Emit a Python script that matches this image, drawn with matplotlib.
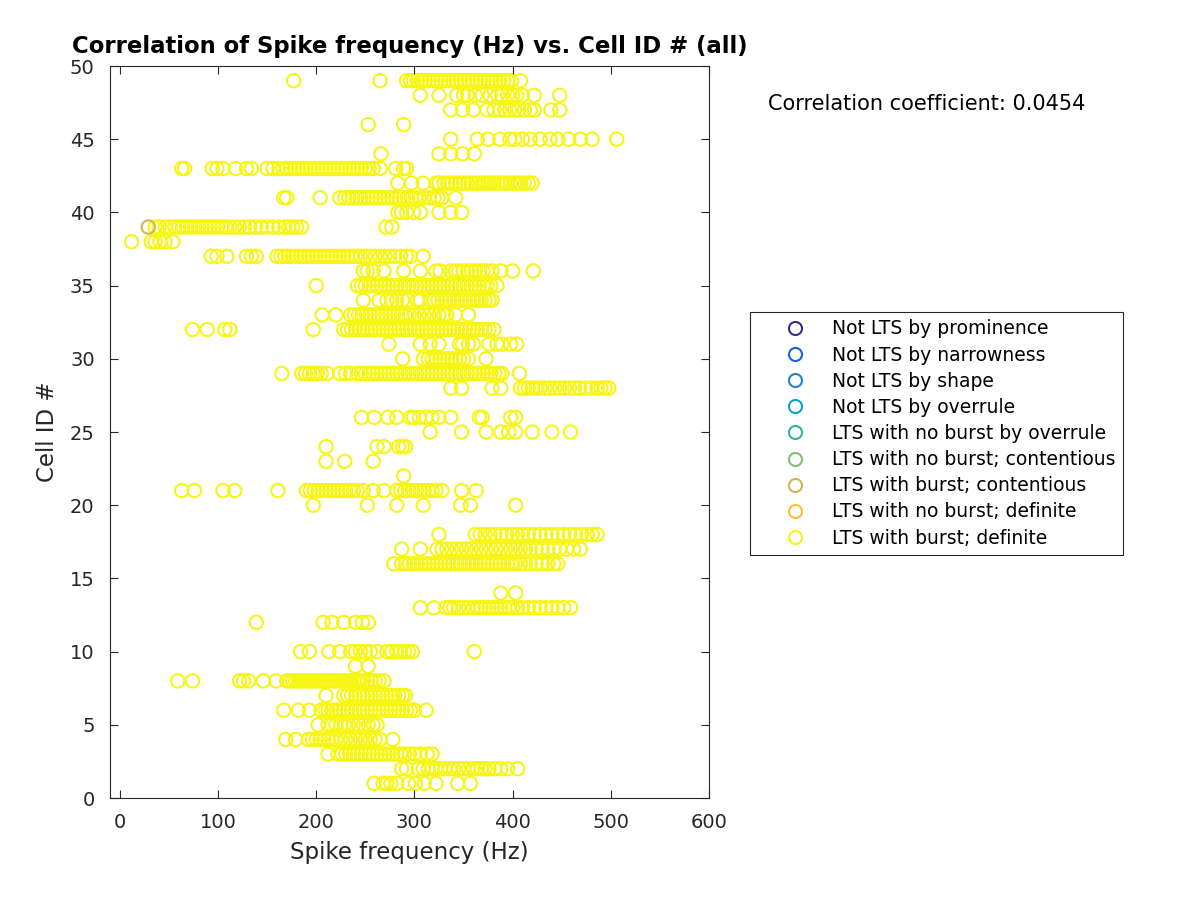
import matplotlib
matplotlib.use("Agg")
import matplotlib.pyplot as plt
from matplotlib.lines import Line2D

# spike frequency (Hz) of every sweep, listed per cell ID
hz_01 = [259, 268, 272, 276, 282, 294, 301, 310, 322, 344, 357]
hz_02 = [287, 292, 304, 309, 314, 318, 322, 327, 331, 336, 340, 345, 350, 355, 360, 364, 368,
         372, 376, 382, 388, 395, 405]
hz_03 = [212, 222, 226, 230, 234, 238, 242, 246, 250, 254, 258, 262, 266, 270, 274, 278, 282,
         286, 290, 295, 300, 306, 313, 318]
hz_04 = [169, 179, 192, 196, 200, 204, 208, 212, 216, 220, 225, 230, 235, 240, 245, 250, 255,
         260, 265, 278]
hz_05 = [202, 212, 216, 220, 225, 229, 233, 238, 243, 248, 253, 258, 262]
hz_06 = [167, 182, 193, 205, 209, 212, 216, 220, 224, 228, 232, 236, 240, 244, 248, 252, 256,
         260, 264, 268, 272, 276, 280, 284, 288, 292, 296, 300, 312]
hz_07 = [210, 228, 232, 236, 240, 244, 248, 252, 256, 260, 264, 268, 272, 276, 280, 284, 288, 291]
hz_08 = [59, 74, 122, 126, 131, 146, 159, 170, 173, 176, 179, 182, 185, 188, 191, 194, 197, 200,
         203, 206, 209, 212, 215, 218, 221, 224, 227, 230, 233, 236, 239, 242, 245, 248, 252,
         256, 260, 264, 269]
hz_09 = [240, 253]
hz_10 = [184, 193, 213, 224, 235, 240, 245, 250, 255, 262, 272, 277, 282, 286, 290, 294, 298, 361]
hz_12 = [139, 207, 216, 228, 240, 247, 253]
hz_13 = [306, 320, 332, 336, 340, 345, 350, 355, 360, 364, 368, 372, 376, 380, 384, 388, 392,
         396, 400, 405, 410, 416, 422, 428, 434, 440, 446, 452, 459]
hz_14 = [388, 403]
hz_16 = [279, 287, 291, 295, 299, 303, 307, 311, 315, 319, 323, 327, 331, 335, 339, 343, 347,
         351, 355, 359, 363, 367, 371, 375, 379, 383, 387, 391, 395, 399, 403, 408, 413, 418,
         424, 430, 436, 442, 446]
hz_17 = [287, 306, 323, 328, 333, 338, 343, 348, 353, 358, 363, 368, 373, 378, 383, 388, 393,
         398, 403, 408, 413, 418, 424, 430, 436, 442, 448, 455, 462, 469]
hz_18 = [325, 362, 367, 372, 377, 382, 388, 394, 400, 405, 410, 416, 422, 428, 434, 440, 446,
         452, 458, 464, 470, 476, 481, 486]
hz_20 = [197, 252, 282, 309, 347, 357, 403]
hz_21 = [63, 76, 105, 117, 161, 190, 194, 198, 202, 206, 210, 214, 218, 222, 226, 230, 234, 238,
         242, 248, 258, 269, 282, 286, 290, 294, 298, 302, 306, 310, 314, 318, 322, 328, 348, 363]
hz_22 = [289]
hz_23 = [210, 229, 258]
hz_24 = [210, 262, 269, 284, 288, 291]
hz_25 = [316, 348, 373, 388, 396, 403, 420, 440, 459]
hz_26 = [246, 259, 273, 282, 296, 299, 305, 312, 318, 325, 337, 366, 369, 398, 403]
hz_28 = [337, 348, 379, 388, 408, 412, 416, 420, 424, 428, 433, 438, 443, 448, 453, 458, 463,
         468, 474, 480, 486, 490, 494, 498]
hz_29 = [165, 185, 189, 193, 197, 201, 205, 211, 224, 230, 235, 242, 246, 250, 254, 258, 262,
         266, 270, 274, 278, 282, 286, 290, 294, 298, 302, 306, 310, 314, 318, 322, 326, 330,
         334, 338, 342, 346, 350, 354, 358, 362, 366, 370, 374, 378, 382, 386, 389, 407]
hz_30 = [288, 309, 314, 318, 322, 326, 330, 334, 338, 342, 346, 350, 355, 373]
hz_31 = [274, 306, 316, 325, 346, 349, 355, 360, 376, 384, 389, 398, 404]
hz_32 = [74, 89, 107, 112, 197, 228, 232, 236, 240, 244, 248, 252, 256, 260, 264, 268, 272, 276,
         280, 284, 288, 292, 296, 300, 304, 308, 312, 316, 320, 324, 328, 332, 336, 340, 344,
         348, 352, 356, 360, 364, 368, 372, 376, 381]
hz_33 = [206, 220, 235, 239, 243, 247, 251, 255, 259, 263, 267, 271, 275, 279, 283, 287, 291,
         295, 300, 305, 310, 315, 320, 325, 330, 333, 342, 355]
hz_34 = [248, 264, 272, 277, 282, 288, 293, 303, 306, 316, 320, 324, 328, 332, 336, 340, 344,
         348, 352, 356, 360, 364, 368, 372, 376, 379]
hz_35 = [200, 242, 246, 250, 254, 258, 262, 266, 270, 274, 278, 282, 286, 290, 294, 298, 302,
         306, 310, 314, 318, 322, 326, 330, 334, 338, 342, 346, 350, 354, 358, 362, 366, 370,
         374, 378, 384]
hz_36 = [248, 252, 258, 269, 289, 306, 322, 326, 337, 342, 345, 350, 354, 358, 362, 366, 370,
         374, 379, 388, 400, 421]
hz_37 = [93, 99, 109, 129, 134, 139, 160, 164, 168, 172, 176, 180, 184, 188, 192, 196, 200, 204,
         208, 212, 216, 220, 224, 228, 232, 236, 240, 245, 250, 255, 260, 265, 270, 275, 280,
         286, 292, 296, 309]
hz_38 = [12, 32, 36, 41, 46, 54]
hz_39 = [36, 40, 46, 51, 56, 60, 64, 68, 72, 76, 80, 84, 88, 92, 96, 100, 104, 108, 112, 117,
         122, 127, 132, 138, 144, 150, 156, 162, 168, 172, 176, 180, 185, 271, 277]
hz_40 = [283, 287, 292, 299, 306, 325, 337, 348]
hz_41 = [167, 170, 204, 224, 229, 233, 237, 241, 245, 249, 253, 257, 261, 265, 269, 273, 277,
         281, 285, 289, 293, 297, 301, 305, 310, 315, 320, 324, 328, 342]
hz_42 = [283, 297, 309, 322, 325, 330, 334, 338, 342, 346, 350, 354, 358, 362, 365, 369, 372,
         375, 378, 381, 385, 388, 391, 394, 398, 402, 405, 408, 412, 416, 420]
hz_43 = [63, 66, 94, 99, 105, 118, 129, 134, 150, 156, 162, 166, 170, 174, 178, 182, 186, 190,
         194, 198, 202, 206, 210, 214, 218, 222, 226, 230, 234, 238, 242, 246, 250, 254, 258,
         265, 281, 289, 292]
hz_44 = [266, 325, 337, 349, 361]
hz_45 = [337, 364, 375, 387, 397, 402, 410, 418, 428, 438, 446, 457, 469, 481, 506]
hz_46 = [253, 289]
hz_47 = [337, 349, 360, 374, 381, 387, 392, 397, 402, 406, 412, 418, 422, 439, 448]
hz_48 = [306, 325, 343, 350, 354, 362, 369, 377, 385, 389, 395, 400, 404, 410, 422, 448]
hz_49 = [177, 265, 292, 296, 299, 303, 307, 311, 315, 319, 323, 327, 331, 335, 339, 343, 347,
         351, 355, 359, 363, 367, 371, 375, 379, 383, 387, 391, 395, 399, 408]

# the one sweep classed "LTS with burst; contentious"
contentious_cell = 39
contentious_hz = 29

corr_coef = 0.0454

classes = ["Not LTS by prominence", "Not LTS by narrowness", "Not LTS by shape",
           "Not LTS by overrule", "LTS with no burst by overrule",
           "LTS with no burst; contentious", "LTS with burst; contentious",
           "LTS with no burst; definite", "LTS with burst; definite"]
class_colors = ["#3b2b8e", "#1a60e0", "#1f86d8", "#0aa7c9", "#2fb59f",
                "#86bd75", "#d3b456", "#fdc130", "#f7f514"]

rows = {1: hz_01, 2: hz_02, 3: hz_03, 4: hz_04, 5: hz_05, 6: hz_06, 7: hz_07, 8: hz_08,
        9: hz_09, 10: hz_10, 12: hz_12, 13: hz_13, 14: hz_14, 16: hz_16, 17: hz_17,
        18: hz_18, 20: hz_20, 21: hz_21, 22: hz_22, 23: hz_23, 24: hz_24, 25: hz_25,
        26: hz_26, 28: hz_28, 29: hz_29, 30: hz_30, 31: hz_31, 32: hz_32, 33: hz_33,
        34: hz_34, 35: hz_35, 36: hz_36, 37: hz_37, 38: hz_38, 39: hz_39, 40: hz_40,
        41: hz_41, 42: hz_42, 43: hz_43, 44: hz_44, 45: hz_45, 46: hz_46, 47: hz_47,
        48: hz_48, 49: hz_49}

xs, ys = [], []
for cid, vals in rows.items():
    xs += vals
    ys += [cid] * len(vals)

fig = plt.figure(figsize=(12, 9), dpi=100)
ax = fig.add_axes([110 / 1200, 1 - 798 / 900, 599 / 1200, 732 / 900])

ax.scatter(xs, ys, s=92, facecolors="none", edgecolors=class_colors[8], linewidths=1.5)
ax.scatter([contentious_hz], [contentious_cell], s=92, facecolors="none",
           edgecolors=class_colors[6], linewidths=1.5)

ax.set_xlim(-10, 600)
ax.set_ylim(0, 50)
ax.set_xticks(range(0, 601, 100))
ax.set_yticks(range(0, 51, 5))
ax.tick_params(direction="in", top=True, right=True, labelsize=14, colors="#262626",
               length=6, pad=11)
for sp in ax.spines.values():
    sp.set_color("#262626")

ax.set_xlabel("Spike frequency (Hz)", fontsize=16.5, color="#262626", labelpad=6)
ax.set_ylabel("Cell ID #", fontsize=16.5, color="#262626", labelpad=8)
ax.set_title("Correlation of Spike frequency (Hz) vs. Cell ID # (all)", fontsize=16.4,
             fontweight="bold", pad=9)

fig.text(768 / 1200, 1 - 104 / 900, "Correlation coefficient: %.4f" % corr_coef,
         fontsize=15, va="center", ha="left")

handles = [Line2D([], [], linestyle="none", marker="o", markersize=9.4,
                  markerfacecolor="none", markeredgecolor=c, markeredgewidth=1.5)
           for c in class_colors]
leg = fig.legend(handles, classes, loc="upper left",
                 bbox_to_anchor=(750 / 1200, 1 - 312 / 900), fontsize=13.5,
                 frameon=True, fancybox=False, edgecolor="#262626", framealpha=1,
                 borderpad=0.4, handlelength=4.0, handletextpad=-0.05, labelspacing=0.38,
                 borderaxespad=0)
leg.get_frame().set_linewidth(0.8)

fig.savefig("out.png", dpi=100)
